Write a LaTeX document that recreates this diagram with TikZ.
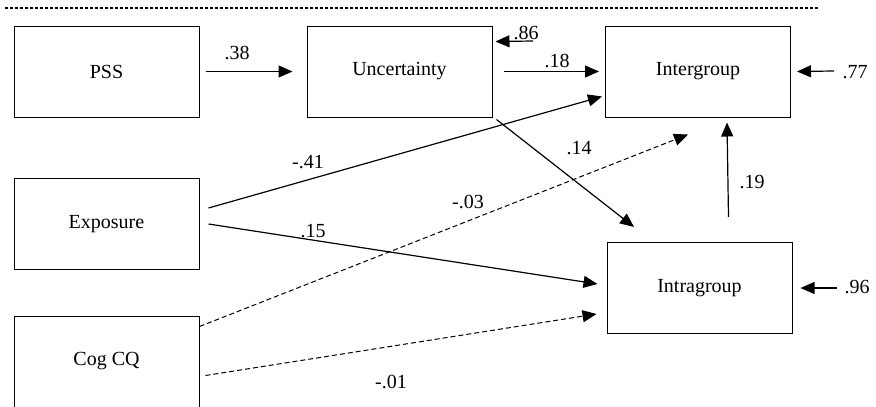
\documentclass[tikz,border=0pt]{standalone}
\usepackage{fontspec}
\setmainfont{Liberation Serif}
\newfontfamily\tmsfont{Liberation Serif}
\usetikzlibrary{arrows.meta,calc}
\begin{document}
\begin{tikzpicture}[x=1pt,y=-1pt,
  box/.style={draw,line width=1pt,minimum width=185pt,minimum height=91pt,inner sep=0pt,font=\tmsfont\fontsize{20}{22}\selectfont},
  lbl/.style={font=\tmsfont\fontsize{20}{22}\selectfont,inner sep=1pt},
  arr/.style={line width=1.2pt,-{Triangle[length=14pt,width=12pt]}},
  darr/.style={arr,dash pattern=on 5pt off 3pt,line width=1pt}]
\useasboundingbox (0,0) rectangle (876,407);
\draw[line width=2.5pt,dash pattern=on 2.5pt off 2.5pt] (5,8) -- (818,8);
\node[box] (pss) at (106.5,71.5) {PSS};
\node[box] (unc) at (399.5,71.5) {Uncertainty};
\node[box] (inter) at (698,71.5) {Intergroup};
\node[box] (exp) at (106.5,224) {Exposure};
\node[box] (intra) at (699.5,288) {Intragroup};
\node[box] (cog) at (106.5,361.5) {Cog CQ};
\coordinate (r77) at (834,71);
\coordinate (r96) at (837,288);
\coordinate (r86) at (533,41);
% connectors
\draw[arr] ([xshift=6pt]pss.east) -- ([xshift=-14pt]unc.west);
\draw[arr] ([xshift=11pt]unc.east) -- ([xshift=-6pt]inter.west);
\draw[arr] (r86) -- ([xshift=3pt,yshift=30pt]unc.east);
\draw[arr] (r77) -- ([xshift=6pt]inter.east);
\draw[arr] (r96) -- ([xshift=8pt]intra.east);
\draw[arr] ([xshift=4pt,yshift=-2pt]unc.south east) -- (634,227);
\draw[arr] ([xshift=9pt,yshift=16pt]exp.east) -- ([xshift=-3pt,yshift=-25pt]inter.west);
\draw[arr] ([xshift=9pt]exp.east) -- ([xshift=-9pt,yshift=4pt]intra.west);
\draw[darr] ([xshift=0pt,yshift=-11pt]cog.north east) -- ([xshift=-10pt,yshift=-17pt]inter.south);
\draw[darr] ([xshift=6pt,yshift=-14pt]cog.east) -- ([xshift=-10pt,yshift=-26pt]intra.west);
\draw[arr] ([xshift=29pt,yshift=25pt]intra.north) -- ([xshift=29pt,yshift=-5pt]inter.south);
% labels
\node[lbl] (l38) at (237,53) {.38};
\node[lbl] (l18) at (557,61) {.18};
\node[lbl] (l86) at (526,33) {.86};
\node[lbl] (l77) at (855,72) {.77};
\node[lbl] (l96) at (857,287) {.96};
\node[lbl] (l14) at (579,148) {.14};
\node[lbl] (l41) at (308,162) {-.41};
\node[lbl] (l03) at (468,202) {-.03};
\node[lbl] (l15) at (313,231) {.15};
\node[lbl] (l01) at (391,382) {-.01};
\node[lbl] (l19) at (752,182) {.19};
\end{tikzpicture}
\end{document}
